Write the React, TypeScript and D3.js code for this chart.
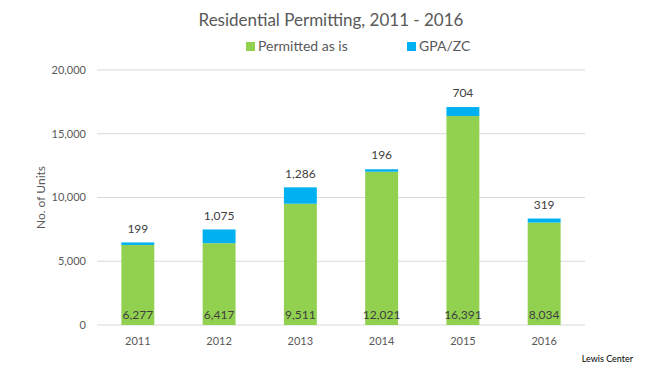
import React from 'react';
import * as d3 from 'd3';

const years = ['2011', '2012', '2013', '2014', '2015', '2016'];
const permitted = [6277, 6417, 9511, 12021, 16391, 8034];
const gpaZc = [199, 1075, 1286, 196, 704, 319];
const yTicks = [0, 5000, 10000, 15000, 20000];

const GREEN = '#92D050';
const BLUE = '#00B0F0';
const FONT = 'Lato, Calibri, sans-serif';

const App: React.FC = () => {
  const width = 662;
  const height = 371;
  const left = 97;
  const right = 585;
  const top = 70;
  const bottom = 325;

  const x = d3.scaleBand<string>().domain(years).range([left, right]).paddingInner(0.595).paddingOuter(0.3);
  const y = d3.scaleLinear().domain([0, 20000]).range([bottom, top]);
  const fmt = d3.format(',');

  return (
    <svg width={width} height={height} style={{ position: 'absolute', left: 0, top: 0, background: '#fff' }}>
      <text x={331} y={26} textAnchor="middle" fontFamily={FONT} fontSize={17} fill="#595959">
        Residential Permitting, 2011 - 2016
      </text>

      {/* legend */}
      <rect x={246} y={42} width={9} height={9} fill={GREEN} />
      <text x={258} y={51} fontFamily={FONT} fontSize={14} fill="#595959">Permitted as is</text>
      <rect x={407} y={42} width={9} height={9} fill={BLUE} />
      <text x={419} y={51} fontFamily={FONT} fontSize={14} fill="#595959">GPA/ZC</text>

      {/* grid + y axis */}
      {yTicks.map(t => (
        <g key={t}>
          <line x1={left} x2={right} y1={y(t)} y2={y(t)} stroke="#D9D9D9" strokeWidth={1} />
          <text x={86} y={y(t)} dy="0.35em" textAnchor="end" fontFamily={FONT} fontSize={11} fill="#595959">
            {fmt(t)}
          </text>
        </g>
      ))}
      <text transform={`translate(45,${(top + bottom) / 2}) rotate(-90)`} textAnchor="middle" fontFamily={FONT} fontSize={12} fill="#595959">
        No. of Units
      </text>

      {/* bars */}
      {years.map((yr, i) => {
        const bx = x(yr)!;
        const bw = x.bandwidth();
        const total = permitted[i] + gpaZc[i];
        return (
          <g key={yr}>
            <rect x={bx} y={y(permitted[i])} width={bw} height={y(0) - y(permitted[i])} fill={GREEN} />
            <rect x={bx} y={y(total)} width={bw} height={y(permitted[i]) - y(total)} fill={BLUE} />
            <text x={bx + bw / 2} y={y(0) - 10} dy="0.35em" textAnchor="middle" fontFamily={FONT} fontSize={12} fill="#404040">
              {fmt(permitted[i])}
            </text>
            <text x={bx + bw / 2} y={y(total) - 14} dy="0.35em" textAnchor="middle" fontFamily={FONT} fontSize={12} fill="#404040">
              {fmt(gpaZc[i])}
            </text>
            <text x={bx + bw / 2} y={341} dy="0.35em" textAnchor="middle" fontFamily={FONT} fontSize={11} fill="#595959">
              {yr}
            </text>
          </g>
        );
      })}

      <text x={633} y={362} textAnchor="end" fontFamily={FONT} fontSize={9} fill="#000">Lewis Center</text>
    </svg>
  );
};

export default App;
